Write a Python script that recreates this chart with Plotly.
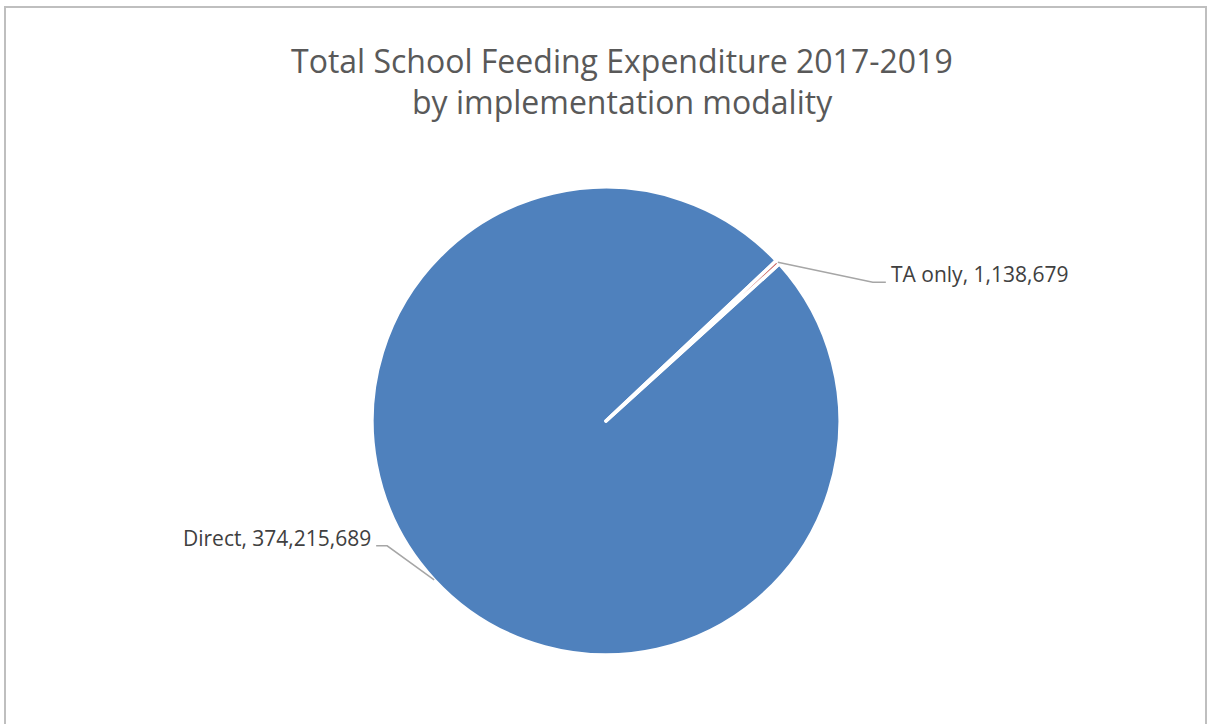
import math
import plotly.graph_objects as go

# Expenditure by implementation modality, 2017-2019
labels = ["Direct", "TA only"]
values = [374215689, 1138679]
slice_colors = ["#4F81BD", "#C0504D"]

title_lines = ["Total School Feeding Expenditure 2017-2019", "by implementation modality"]

# Page and pie geometry (pixels)
W, H = 1208, 724
CX, CY, R = 606, 421, 234
ROTATION = 47.8  # start angle of the first slice, clockwise from 12 o'clock

# Leader-line elbow offsets from the slice edge, and the horizontal run to the label
leader_offsets = {"Direct": (-47, -34, -11), "TA only": (95, 20, 13)}


def px_to_paper(x, y):
    return x / W, 1 - y / H


fig = go.Figure()
fig.add_trace(go.Pie(
    labels=labels,
    values=values,
    sort=False,
    direction="clockwise",
    rotation=ROTATION,
    marker=dict(colors=slice_colors, line=dict(color="white", width=3.5)),
    textinfo="none",
    hovertemplate="%{label}, %{value:,}<extra></extra>",
    domain=dict(x=[(CX - R) / W, (CX + R) / W],
                y=[1 - (CY + R) / H, 1 - (CY - R) / H]),
    showlegend=False,
))

# Data labels with leader lines at each slice's mid-angle
total = sum(values)
start = ROTATION
shapes = []
annotations = []
for lab, val in zip(labels, values):
    span = 360.0 * val / total
    mid = math.radians(start + span / 2)
    start += span
    ex, ey = CX + R * math.sin(mid), CY - R * math.cos(mid)
    dx, dy, run = leader_offsets[lab]
    bx, by = ex + dx, ey + dy
    tx = bx + run
    path_pts = [px_to_paper(ex, ey), px_to_paper(bx, by), px_to_paper(tx, by)]
    path = "M " + " L ".join(f"{x},{y}" for x, y in path_pts)
    shapes.append(dict(type="path", xref="paper", yref="paper", path=path,
                       line=dict(color="#A6A6A6", width=1.5)))
    ax, ay = px_to_paper(tx, by)
    annotations.append(dict(
        x=ax, y=ay, xref="paper", yref="paper",
        text=f"{lab}, {val:,}", showarrow=False,
        xanchor="left" if run > 0 else "right", yanchor="middle",
        xshift=3 if run > 0 else -3, yshift=8,
        font=dict(family="Open Sans", size=21, color="#404040"),
    ))

# Two-line chart title
for line, ty in zip(title_lines, [60, 101]):
    x, y = px_to_paper(622, ty)
    annotations.append(dict(
        x=x, y=y, xref="paper", yref="paper", text=line, showarrow=False,
        xanchor="center", yanchor="middle",
        font=dict(family="Open Sans", size=32, color="#595959"),
    ))

# Chart-area border
bx0, by0 = px_to_paper(5, 740)
bx1, by1 = px_to_paper(1206, 7)
shapes.append(dict(type="rect", xref="paper", yref="paper",
                   x0=bx0, y0=by0, x1=bx1, y1=by1,
                   line=dict(color="#BFBFBF", width=2), layer="below"))

fig.update_layout(
    width=W, height=H,
    margin=dict(l=0, r=0, t=0, b=0),
    paper_bgcolor="white", plot_bgcolor="white",
    shapes=shapes, annotations=annotations,
)

fig.write_html("out.html")
